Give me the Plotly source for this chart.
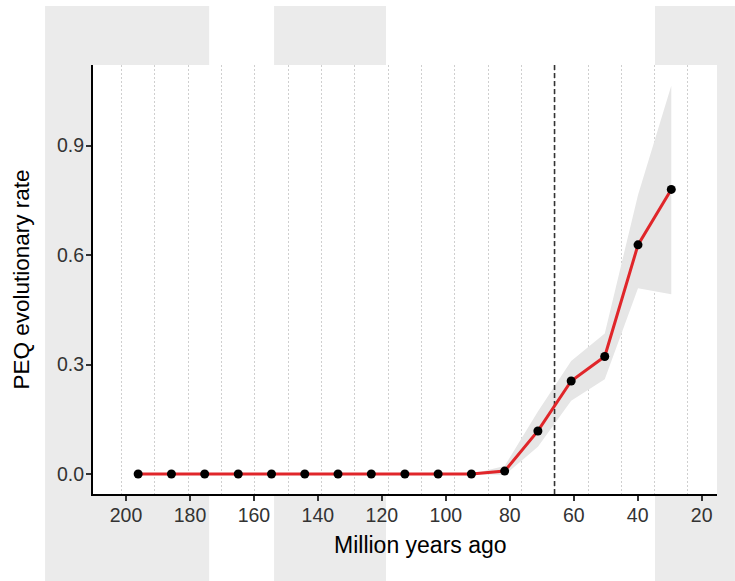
import plotly.graph_objects as go

# ---- data ----
ages = [196.2, 185.8, 175.4, 164.9, 154.5, 144.1, 133.7, 123.3, 112.8,
        102.4, 92.0, 81.6, 71.2, 60.8, 50.3, 39.9, 29.5]
rate = [0, 0, 0, 0, 0, 0, 0, 0, 0, 0, 0, 0.008, 0.118, 0.255, 0.322, 0.628, 0.780]
rate_lo = [0, 0, 0, 0, 0, 0, 0, 0, 0, 0, 0, -0.003, 0.075, 0.201, 0.260, 0.509, 0.493]
rate_hi = [0, 0, 0, 0, 0, 0, 0, 0, 0, 0, 0, 0.022, 0.171, 0.310, 0.385, 0.765, 1.064]
bin_edges = [201.4, 191.0, 180.6, 170.1, 159.7, 149.3, 138.9, 128.5, 118.0,
             107.6, 97.2, 86.8, 76.4, 65.9, 55.5, 45.1, 34.7, 24.3]
kpg_boundary = 66.0
band_starts = [225.3, 153.7, 34.6]
band_ends = [174.0, 118.7, 9.6]
x_ticks = [200, 180, 160, 140, 120, 100, 80, 60, 40, 20]
y_ticks = [0.0, 0.3, 0.6, 0.9]
y_ticklabels = ["0.0", "0.3", "0.6", "0.9"]

X_RANGE = [210.32, 15.2]
Y_RANGE = [-0.0548, 1.121]

def xpaper(v):
    return (X_RANGE[0] - v) / (X_RANGE[0] - X_RANGE[1])

fig = go.Figure()

shapes = []
for a, b in zip(band_starts, band_ends):
    shapes.append(dict(type="rect", xref="paper", yref="paper",
                       x0=xpaper(a), x1=xpaper(b), y0=-0.205, y1=1.1375,
                       fillcolor="#EBEBEB", line=dict(width=0), layer="below"))
# white panel
shapes.append(dict(type="rect", xref="paper", yref="paper", x0=0, x1=1, y0=0, y1=1,
                   fillcolor="white", line=dict(width=0), layer="below"))

# ribbon
fig.add_trace(go.Scatter(x=ages, y=rate_lo, mode="lines", line=dict(width=0),
                         showlegend=False, hoverinfo="skip"))
fig.add_trace(go.Scatter(x=ages, y=rate_hi, mode="lines", line=dict(width=0),
                         fill="tonexty", fillcolor="#E6E6E6",
                         showlegend=False, hoverinfo="skip"))
# K-Pg dashed line
fig.add_trace(go.Scatter(x=[kpg_boundary, kpg_boundary], y=Y_RANGE, mode="lines",
                         line=dict(color="#333333", width=1.6, dash="5px,3px"),
                         showlegend=False, hoverinfo="skip"))
# main line
fig.add_trace(go.Scatter(x=ages, y=rate, mode="lines+markers",
                         line=dict(color="#E0262A", width=3),
                         marker=dict(color="black", size=9),
                         showlegend=False))

fig.update_layout(
    width=735, height=581,
    margin=dict(l=93, r=18, t=65, b=87),
    paper_bgcolor="white", plot_bgcolor="white",
    shapes=shapes,
    font=dict(family="Liberation Sans, Arial, sans-serif", color="black"),
    xaxis=dict(range=X_RANGE, tickmode="array", tickvals=x_ticks,
               showgrid=False, zeroline=False,
               showline=True, linecolor="black", linewidth=2.2,
               ticks="outside", ticklen=5, tickwidth=1.5, tickcolor="#333333",
               ticklabelstandoff=-3,
               tickfont=dict(size=19.5, color="#333333"),
               minor=dict(tickmode="array", tickvals=bin_edges, showgrid=True,
                          gridcolor="#CFCFCF", gridwidth=0.8, griddash="2px,2px",
                          ticks="")),
    yaxis=dict(range=Y_RANGE, tickmode="array", tickvals=y_ticks, ticktext=y_ticklabels,
               showgrid=False, zeroline=False,
               showline=True, linecolor="black", linewidth=2.2,
               ticks="outside", ticklen=5, tickwidth=1.5, tickcolor="#333333",
               ticklabelstandoff=-2,
               tickfont=dict(size=19.5, color="#333333")),
    annotations=[
        dict(text="Million years ago", xref="paper", yref="paper",
             x=(420 - 93) / 624, y=-(545 - 494) / 429, xanchor="center", yanchor="middle",
             showarrow=False, font=dict(size=23, color="black")),
        dict(text="PEQ evolutionary rate", xref="paper", yref="paper",
             x=-(93 - 21) / 624, y=0.5, xanchor="center", yanchor="middle",
             textangle=-90, showarrow=False, font=dict(size=22.5, color="black")),
    ],
)

fig.write_html("out.html", config={"displayModeBar": False},
               post_script="document.body.style.margin='0px';")
